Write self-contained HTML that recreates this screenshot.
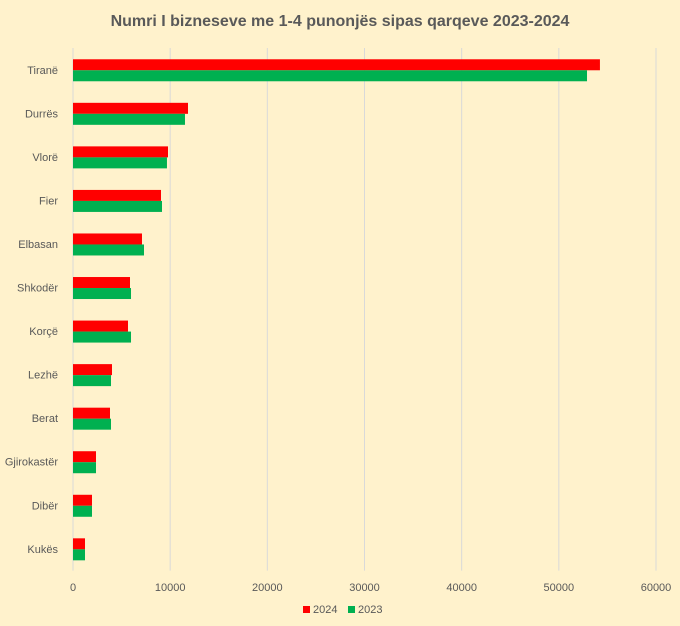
<!DOCTYPE html>
<html><head><meta charset="utf-8"><style>
body{margin:0;background:#FFF2CC;}
svg{display:block;font-family:"Liberation Sans",Arial,sans-serif;}
</style></head><body>
<svg id="chart" width="680" height="626">
<rect width="680" height="626" fill="#FFF2CC"/>
<text x="340" y="26" text-anchor="middle" font-size="16" font-weight="bold" fill="#595959">Numri I bizneseve me 1-4 punonjës sipas qarqeve 2023-2024</text>
<g id="grid"></g><g id="bars"></g><g id="labels"></g>
<g>
<rect x="303" y="606" width="7" height="7" fill="#FF0000"/>
<text x="313" y="613" font-size="11" fill="#595959">2024</text>
<rect x="348" y="606" width="7" height="7" fill="#00B050"/>
<text x="358" y="613" font-size="11" fill="#595959">2023</text>
</g>
</svg>
<script>
const categories=["Tiranë","Durrës","Vlorë","Fier","Elbasan","Shkodër","Korçë","Lezhë","Berat","Gjirokastër","Dibër","Kukës"];
const values2024=[54230,11835,9777,9056,7100,5866,5660,4014,3808,2367,1955,1235];
const values2023=[52900,11525,9670,9160,7307,5970,5970,3911,3911,2367,1955,1235];
const ticks=[0,10000,20000,30000,40000,50000,60000];
const NS="http://www.w3.org/2000/svg";
const x0=73,x1=656,xmax=60000,top0=48,step=43.55;
const xs=v=>x0+(v/xmax)*(x1-x0);
const cy=i=>top0+step*(i+0.5);
function mk(tag,attrs,parent){const e=document.createElementNS(NS,tag);for(const k in attrs)e.setAttribute(k,attrs[k]);parent.appendChild(e);return e;}
const grid=document.getElementById('grid'),bars=document.getElementById('bars'),labels=document.getElementById('labels');
ticks.forEach(t=>{
 const l=mk('line',{x1:xs(t),x2:xs(t),y1:top0,y2:top0+step*categories.length,stroke:'#D9D9D9','stroke-width':1},grid);
 
 
 const tx=mk('text',{x:xs(t),y:591,'text-anchor':'middle','font-size':11,fill:'#595959'},labels);
 tx.textContent=t;
 
 
});
categories.forEach((c,i)=>{
 const y=cy(i);
 const r=mk('rect',{x:x0,y:y-10.5,width:xs(values2024[i])-x0,height:11,fill:'#FF0000'},bars);
 
 
 const g=mk('rect',{x:x0,y:y+0.5,width:xs(values2023[i])-x0,height:11,fill:'#00B050'},bars);
 
 
 const t=mk('text',{x:58,y:y+4,'text-anchor':'end','font-size':11,fill:'#595959'},labels);
 t.textContent=c;
 
 
});
</script>
</body></html>
